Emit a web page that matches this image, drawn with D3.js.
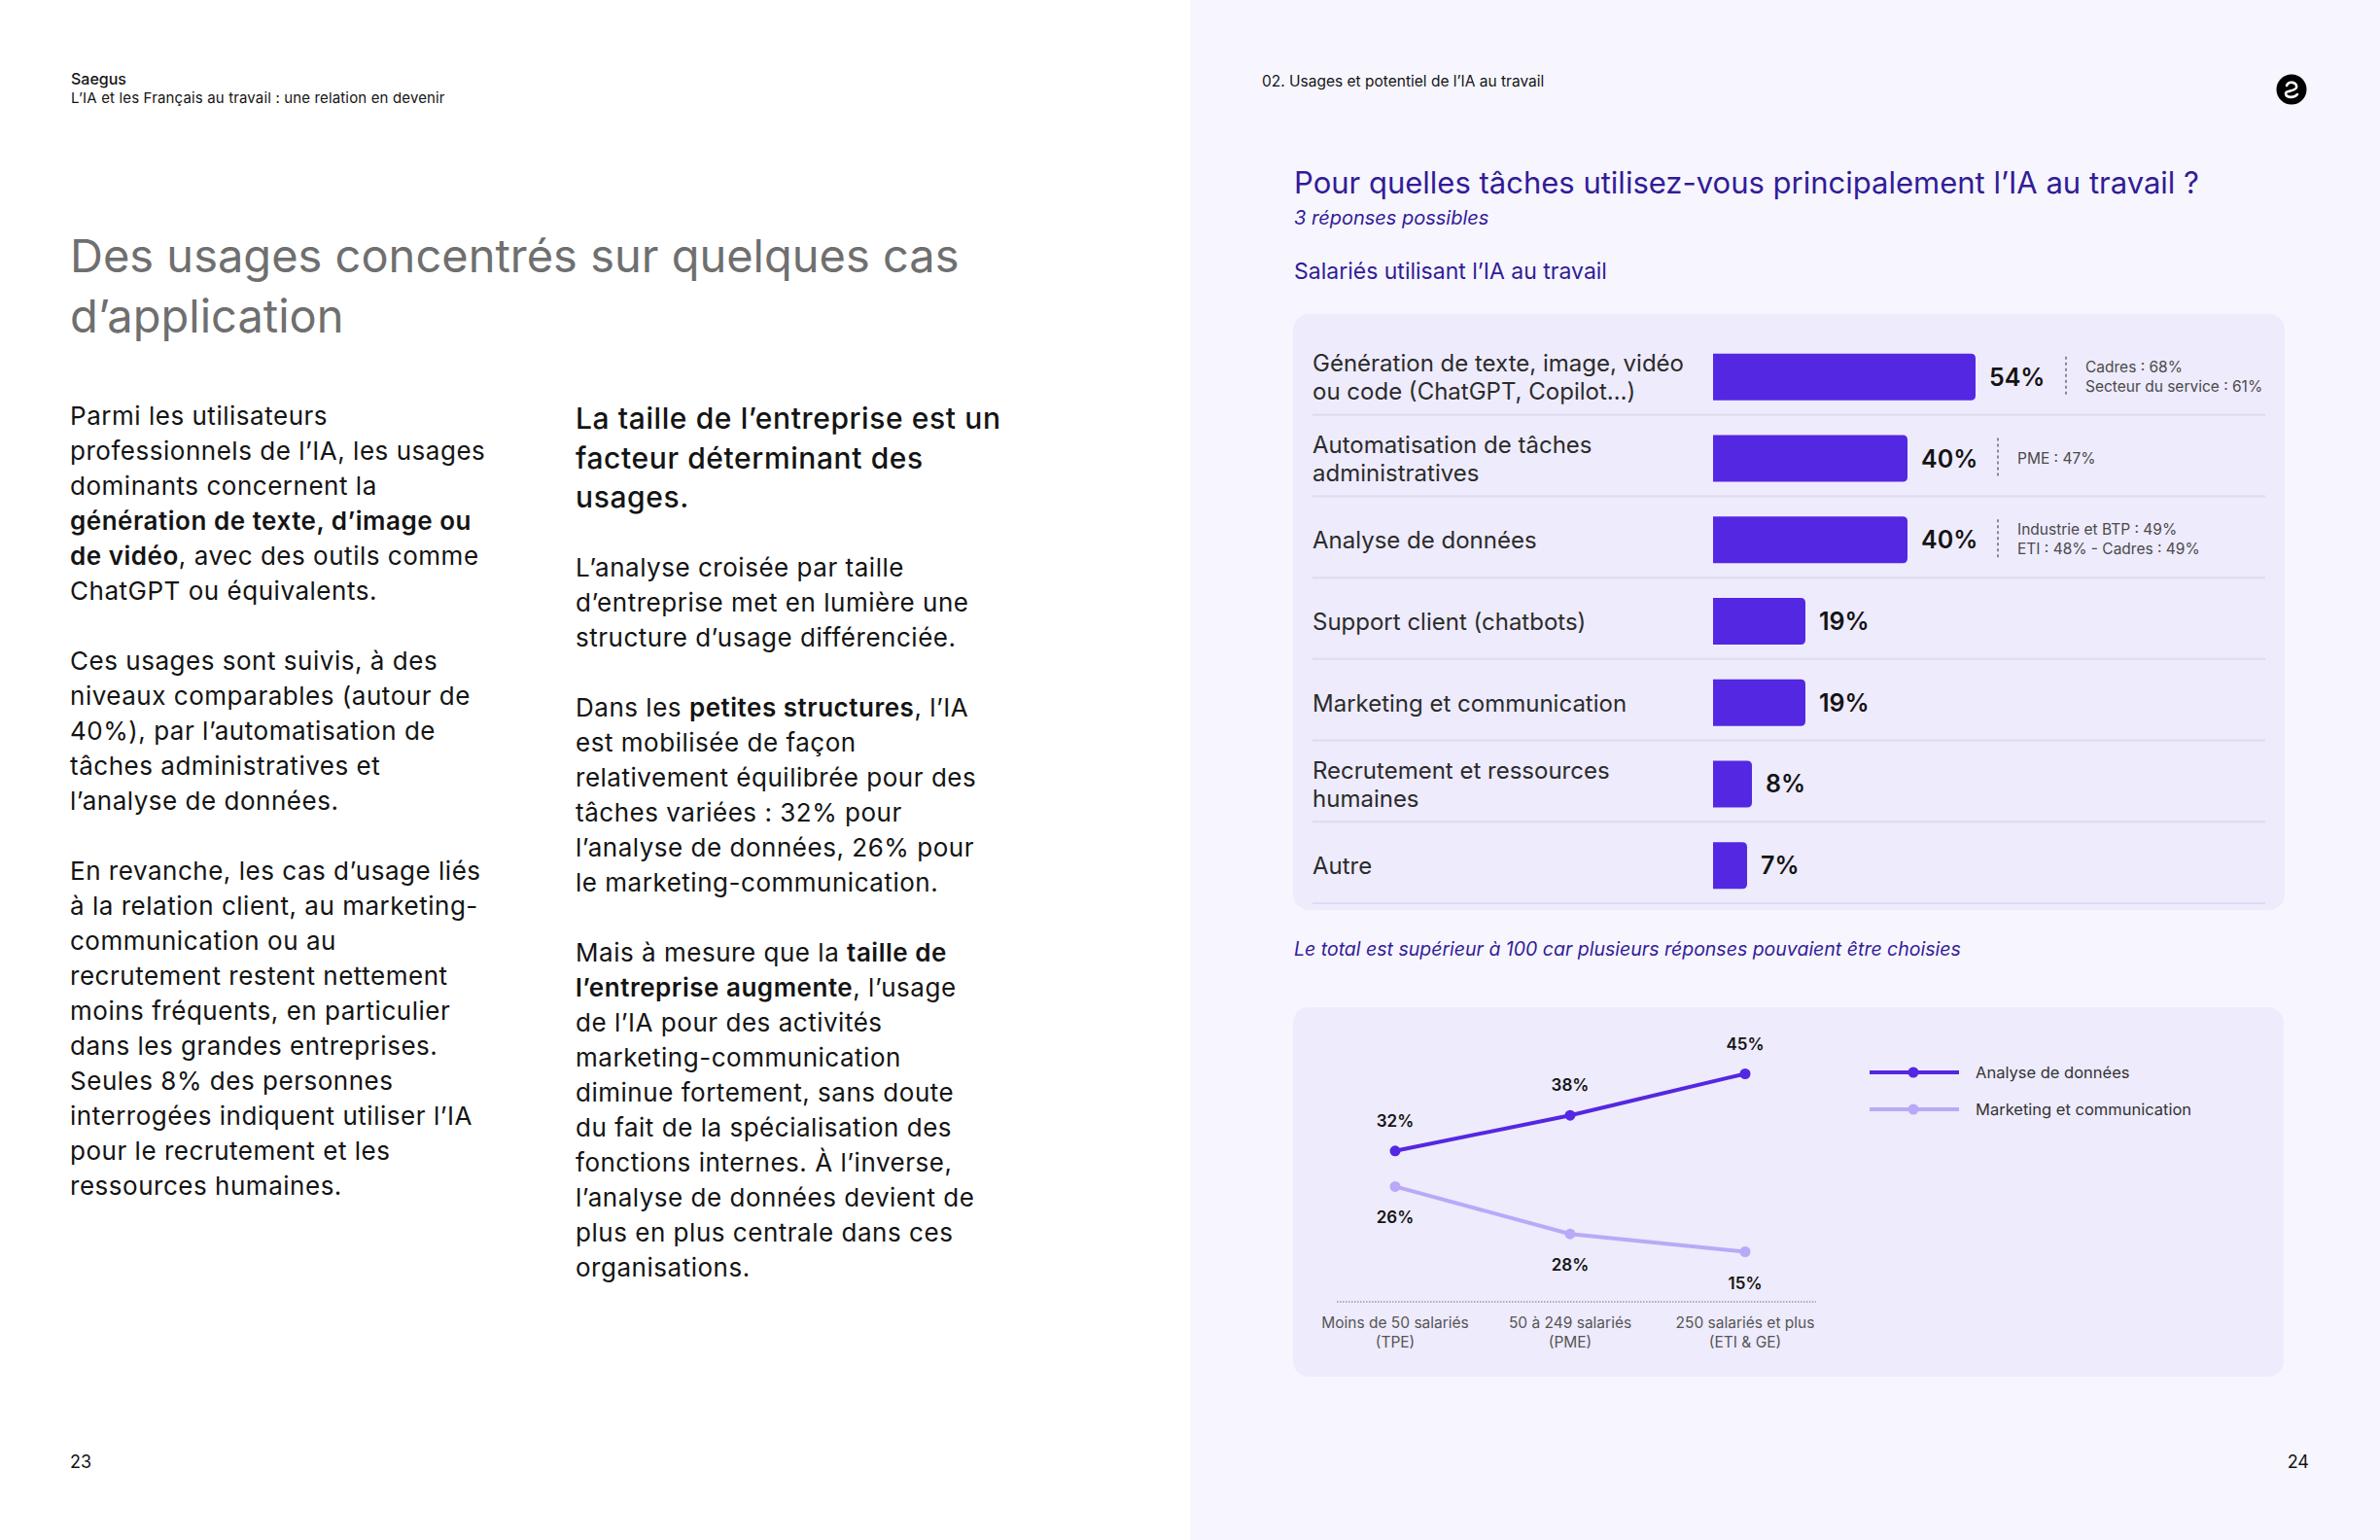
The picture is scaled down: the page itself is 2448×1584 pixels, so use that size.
<!DOCTYPE html>
<html><head><meta charset="utf-8">
<script src="https://cdn.jsdelivr.net/npm/d3@7"></script>
<style>
html,body{margin:0;padding:0;background:#fff}
svg{display:block}
text{font-family:Inter,"Noto Sans",sans-serif}
</style>
</head><body>
<svg id="c" width="2448" height="1584"></svg>
<script>
// ---------------- DATA ----------------
const taskCategories = ["Génération", "Automatisation", "Analyse", "Support", "Marketing", "Recrutement", "Autre"];
const taskLabelLines = [
  ["Génération de texte, image, vidéo", "ou code (ChatGPT, Copilot…)"],
  ["Automatisation de tâches", "administratives"],
  ["Analyse de données"],
  ["Support client (chatbots)"],
  ["Marketing et communication"],
  ["Recrutement et ressources", "humaines"],
  ["Autre"]
];
const taskValues = [54, 40, 40, 19, 19, 8, 7];
const taskNotes = [
  ["Cadres : 68%", "Secteur du service : 61%"],
  ["PME : 47%"],
  ["Industrie et BTP : 49%", "ETI : 48% - Cadres : 49%"],
  [], [], [], []
];

const sizeCategories = ["TPE", "PME", "ETI & GE"];
const sizeLabelLines = [
  ["Moins de 50 salariés", "(TPE)"],
  ["50 à 249 salariés", "(PME)"],
  ["250 salariés et plus", "(ETI & GE)"]
];
const seriesNames = ["Analyse de données", "Marketing et communication"];
const analyseValues = [32, 38, 45];
const analyseLabels = ["32%", "38%", "45%"];
const marketingValues = [26, 18, 15];
const marketingLabels = ["26%", "28%", "15%"];

const col1Lines = [
  "Parmi les utilisateurs",
  "professionnels de l’IA, les usages",
  "dominants concernent la",
  "**génération de texte, d’image ou**",
  "**de vidéo**, avec des outils comme",
  "ChatGPT ou équivalents.",
  "",
  "Ces usages sont suivis, à des",
  "niveaux comparables (autour de",
  "40%), par l’automatisation de",
  "tâches administratives et",
  "l’analyse de données.",
  "",
  "En revanche, les cas d’usage liés",
  "à la relation client, au marketing-",
  "communication ou au",
  "recrutement restent nettement",
  "moins fréquents, en particulier",
  "dans les grandes entreprises.",
  "Seules 8% des personnes",
  "interrogées indiquent utiliser l’IA",
  "pour le recrutement et les",
  "ressources humaines."
];
const col2Heading = ["La taille de l’entreprise est un", "facteur déterminant des", "usages."];
const col2Lines = [
  "L’analyse croisée par taille",
  "d’entreprise met en lumière une",
  "structure d’usage différenciée.",
  "",
  "Dans les **petites structures**, l’IA",
  "est mobilisée de façon",
  "relativement équilibrée pour des",
  "tâches variées : 32% pour",
  "l’analyse de données, 26% pour",
  "le marketing-communication.",
  "",
  "Mais à mesure que la **taille de**",
  "**l’entreprise augmente**, l’usage",
  "de l’IA pour des activités",
  "marketing-communication",
  "diminue fortement, sans doute",
  "du fait de la spécialisation des",
  "fonctions internes. À l’inverse,",
  "l’analyse de données devient de",
  "plus en plus centrale dans ces",
  "organisations."
];

// ---------------- COLORS ----------------
const C = {
  rightBg: "#f7f6ff", panel: "#eeebfc", sep: "#dedbee",
  bar: "#5427e2", light: "#b9a9f8", indigo: "#321c98",
  ink: "#141414", label: "#2b2b2b", grey: "#6f6f6f", note: "#4a4a4a"
};

const svg = d3.select("#c");

function richText(g, lines, x, y0, lh, size, color, weight, boldWeight, ls) {
  lines.forEach((ln, i) => {
    if (!ln) return;
    const t = g.append("text").attr("x", x).attr("y", y0 + i * lh)
      .attr("font-size", size).attr("fill", color).attr("font-weight", weight)
      .attr("letter-spacing", ls);
    ln.split("**").forEach((seg, j) => {
      if (!seg) return;
      t.append("tspan").text(seg).attr("font-weight", j % 2 ? boldWeight : weight);
    });
  });
}

// ---------------- LEFT PAGE ----------------
svg.append("rect").attr("x", 0).attr("y", 0).attr("width", 1224).attr("height", 1584).attr("fill", "#ffffff");
svg.append("text").attr("x", 73).attr("y", 87).attr("font-size", 16).attr("font-weight", 500).attr("fill", C.ink).text("Saegus");
svg.append("text").attr("x", 73).attr("y", 106).attr("font-size", 15).attr("fill", C.ink).attr("letter-spacing", "0.01em")
  .text("L’IA et les Français au travail : une relation en devenir");
richText(svg, ["Des usages concentrés sur quelques cas", "d’application"], 72, 280, 62, 47, C.grey, 400, 400, "0em");
richText(svg, col1Lines, 72, 437, 36, 26, C.ink, 400, 600, "0.02em");
richText(svg, col2Heading, 592, 441, 40.5, 30, C.ink, 500, 500, "0.02em");
richText(svg, col2Lines, 592, 592.5, 36, 26, C.ink, 400, 600, "0.02em");
svg.append("text").attr("x", 72).attr("y", 1510).attr("font-size", 18).attr("fill", C.ink).text("23");

// ---------------- RIGHT PAGE ----------------
svg.append("rect").attr("x", 1224).attr("y", 0).attr("width", 1224).attr("height", 1584).attr("fill", C.rightBg);
svg.append("text").attr("x", 1298).attr("y", 89).attr("font-size", 15.5).attr("fill", C.ink)
  .text("02. Usages et potentiel de l’IA au travail");
const logo = svg.append("g").attr("transform", "translate(2357,92)");
logo.append("circle").attr("r", 15.5).attr("fill", "#000");
logo.append("path").attr("d", "M-5,-4 C-3,-9 6,-8 5,-2 C4,2 -6,1 -6,4 C-6,9 3,9 6,5")
  .attr("fill", "none").attr("stroke", "#fff").attr("stroke-width", 2.6).attr("stroke-linecap", "round");
svg.append("text").attr("x", 2375).attr("y", 1510).attr("text-anchor", "end").attr("font-size", 18).attr("fill", C.ink).text("24");

svg.append("text").attr("x", 1331).attr("y", 199).attr("font-size", 31).attr("fill", C.indigo)
  .text("Pour quelles tâches utilisez-vous principalement l’IA au travail ?");
svg.append("text").attr("x", 1331).attr("y", 231).attr("font-size", 20).attr("font-style", "italic").attr("fill", C.indigo)
  .text("3 réponses possibles");
svg.append("text").attr("x", 1331).attr("y", 287).attr("font-size", 23).attr("fill", C.indigo)
  .text("Salariés utilisant l’IA au travail");

// ---- Bar chart panel ----
svg.append("rect").attr("x", 1330).attr("y", 323).attr("width", 1020).attr("height", 613).attr("rx", 16).attr("fill", C.panel);

const y = d3.scaleBand().domain(taskCategories).range([346, 932]);
const barH = 48;
const x = d3.scaleLinear().domain([0, 100]).range([1762, 2262]);
const step = y.step();
const rows = svg.append("g").selectAll("g.row").data(taskCategories).join("g").attr("class", "row");
const cyOf = d => y(d) + step / 2;

rows.append("line")
  .attr("x1", 1350).attr("x2", 2330)
  .attr("y1", d => cyOf(d) + step / 2 - 3)
  .attr("y2", d => cyOf(d) + step / 2 - 3)
  .attr("stroke", C.sep).attr("stroke-width", 2);

function rightRounded(x0, y0, w, h, r) {
  r = Math.min(r, w / 2, h / 2);
  return `M${x0},${y0}H${x0 + w - r}Q${x0 + w},${y0} ${x0 + w},${y0 + r}V${y0 + h - r}Q${x0 + w},${y0 + h} ${x0 + w - r},${y0 + h}H${x0}Z`;
}
rows.append("path")
  .attr("d", (d, i) => rightRounded(x(0), cyOf(d) - barH / 2, x(taskValues[i]) - x(0), barH, 5))
  .attr("fill", C.bar);

rows.each(function (d, i) {
  const g = d3.select(this);
  const cy = cyOf(d);
  const lines = taskLabelLines[i];
  lines.forEach((ln, k) => {
    g.append("text").attr("x", 1350).attr("y", cy + 9 - (lines.length - 1) * 29 / 2 + k * 29)
      .attr("font-size", 24).attr("fill", C.label).text(ln);
  });
  const xe = x(taskValues[i]);
  g.append("text").attr("x", xe + 14).attr("y", cy + 9).attr("font-size", 25).attr("font-weight", 600)
    .attr("fill", C.ink).text(taskValues[i] + "%");
  const notes = taskNotes[i];
  if (notes.length) {
    const xd = xe + 93;
    g.append("line").attr("x1", xd).attr("x2", xd).attr("y1", cy - 21).attr("y2", cy + 21)
      .attr("stroke", "#6a6a6a").attr("stroke-width", 1.5).attr("stroke-dasharray", "3,3");
    notes.forEach((n, k) => {
      g.append("text").attr("x", xd + 20).attr("y", cy + 5 - (notes.length - 1) * 10 + k * 20)
        .attr("font-size", 15.5).attr("fill", C.note).text(n);
    });
  }
});

svg.append("text").attr("x", 1331).attr("y", 983).attr("font-size", 19.5).attr("font-style", "italic").attr("fill", C.indigo)
  .text("Le total est supérieur à 100 car plusieurs réponses pouvaient être choisies");

// ---- Line chart panel ----
svg.append("rect").attr("x", 1330).attr("y", 1036).attr("width", 1019).attr("height", 380).attr("rx", 16).attr("fill", C.panel);

const lx = d3.scalePoint().domain(sizeCategories).range([1435, 1795]);
const ly = d3.scaleLinear().domain([0, 50]).range([1379, 1074]);

svg.append("line").attr("x1", 1375).attr("x2", 1868).attr("y1", 1339).attr("y2", 1339)
  .attr("stroke", "#9a98a8").attr("stroke-width", 1.5).attr("stroke-dasharray", "1.5,1.5");

const xl = svg.append("g");
sizeCategories.forEach((c, i) => {
  sizeLabelLines[i].forEach((ln, k) => {
    xl.append("text").attr("x", lx(c)).attr("y", 1366 + k * 20).attr("text-anchor", "middle")
      .attr("font-size", 15.5).attr("fill", "#555").text(ln);
  });
});

const series = [
  { name: seriesNames[0], values: analyseValues, labels: analyseLabels, color: C.bar, dy: -25 },
  { name: seriesNames[1], values: marketingValues, labels: marketingLabels, color: C.light, dy: 38 }
];
const line = d3.line().x((d, i) => lx(sizeCategories[i])).y(d => ly(d));
series.slice().reverse().forEach(s => {
  const g = svg.append("g");
  g.append("path").attr("d", line(s.values)).attr("fill", "none").attr("stroke", s.color).attr("stroke-width", 4);
  g.selectAll("circle").data(s.values).join("circle")
    .attr("cx", (d, i) => lx(sizeCategories[i])).attr("cy", d => ly(d)).attr("r", 5.5).attr("fill", s.color);
  g.selectAll("text").data(s.values).join("text")
    .attr("x", (d, i) => lx(sizeCategories[i])).attr("y", d => ly(d) + s.dy)
    .attr("text-anchor", "middle").attr("font-size", 17).attr("font-weight", 600).attr("fill", C.ink)
    .text((d, i) => s.labels[i]);
});

// legend
series.forEach((s, i) => {
  const yy = 1103 + i * 38;
  svg.append("line").attr("x1", 1923).attr("x2", 2015).attr("y1", yy).attr("y2", yy).attr("stroke", s.color).attr("stroke-width", 4);
  svg.append("circle").attr("cx", 1968).attr("cy", yy).attr("r", 5.5).attr("fill", s.color);
  svg.append("text").attr("x", 2032).attr("y", yy + 5.5).attr("font-size", 16.5).attr("fill", "#333")
    .text(s.name);
});
</script>
</body></html>
